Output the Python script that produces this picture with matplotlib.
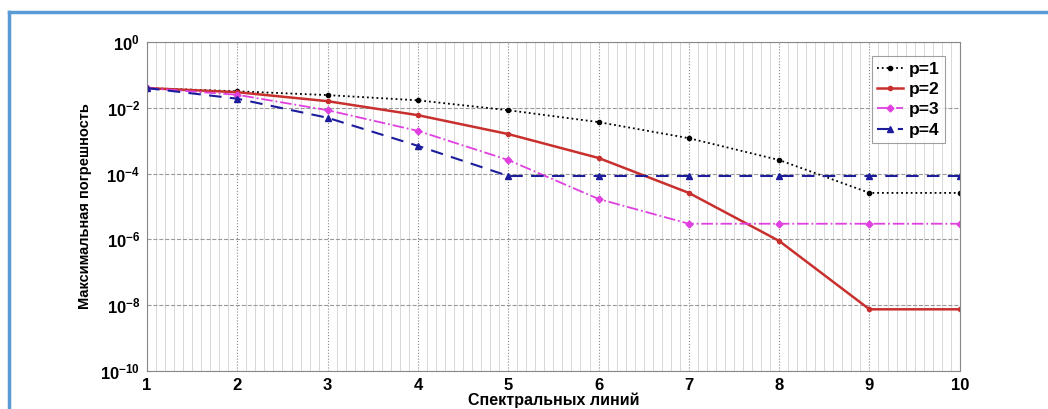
import numpy as np
import matplotlib
matplotlib.use("Agg")
import matplotlib.pyplot as plt
from matplotlib.ticker import MultipleLocator, FixedLocator, NullLocator
from matplotlib.lines import Line2D

# data
lines_n = [1, 2, 3, 4, 5, 6, 7, 8, 9, 10]
err_p1 = [0.04, 0.032, 0.0245, 0.017, 0.0085, 0.0037, 0.0012, 2.6e-4, 2.6e-5, 2.6e-5]
err_p2 = [0.04, 0.03, 0.016, 0.006, 1.6e-3, 3e-4, 2.6e-5, 9e-7, 7.5e-9, 7.5e-9]
err_p3 = [0.04, 0.025, 0.0085, 0.002, 2.6e-4, 1.7e-5, 3e-6, 3e-6, 3e-6, 3e-6]
err_p4 = [0.04, 0.019, 0.005, 7e-4, 8.5e-5, 8.5e-5, 8.5e-5, 8.5e-5, 8.5e-5, 8.5e-5]
labels = ['p=1', 'p=2', 'p=3', 'p=4']

plt.rcParams['font.family'] = ['Liberation Sans', 'DejaVu Sans']

fig = plt.figure(figsize=(10.48, 4.09), dpi=100)
ax = fig.add_axes([0.1403, 0.093, 0.7755, 0.804])

ax.plot(lines_n, err_p1, linestyle=':', color='black', marker='.', markersize=6,
        linewidth=1.3, label=labels[0])
ax.plot(lines_n, err_p2, linestyle='-', color='#c8302e', marker='.', markersize=6,
        linewidth=1.8, label=labels[1])
ax.plot(lines_n, err_p3, linestyle='-.', color='#e040e0', marker='D', markersize=3.5,
        linewidth=1.3, label=labels[2])
ax.plot(lines_n, err_p4, linestyle='--', color='#1c1c9c', marker='^', markersize=5,
        linewidth=1.5, dashes=(6, 4), label=labels[3])

ax.set_yscale('log')
ax.set_xlim(1, 10)
ax.set_ylim(1e-10, 1)
ax.set_xticks(lines_n)
ax.xaxis.set_minor_locator(MultipleLocator(0.1))
ax.yaxis.set_major_locator(FixedLocator([1e-10, 1e-8, 1e-6, 1e-4, 1e-2, 1e0]))
ax.yaxis.set_minor_locator(NullLocator())

ax.grid(True, which='minor', axis='x', color='#d8d8d8', linewidth=0.7, linestyle='-')
ax.grid(True, which='major', axis='x', color='#888888', linewidth=0.8, linestyle=':')
ax.grid(True, which='major', axis='y', color='#999999', linewidth=0.8, linestyle='--')
ax.set_axisbelow(True)

for s in ax.spines.values():
    s.set_color('#888888')
ax.tick_params(which='both', length=0, labelsize=12, pad=5)
for t in ax.get_xticklabels() + ax.get_yticklabels():
    t.set_fontweight('bold')

ax.set_ylabel('Максимальная погрешность', fontsize=10.5, fontweight='bold', labelpad=6)
ax.set_xlabel('Спектральных линий', fontsize=11.5, fontweight='bold', labelpad=0)

leg = ax.legend(loc='upper right', prop={'weight': 'bold', 'size': 12.5},
                fancybox=False, edgecolor='#888888', handlelength=1.5,
                handletextpad=0.3, borderpad=0.3, labelspacing=0.3,
                bbox_to_anchor=(0.992, 0.983))
leg.get_frame().set_linewidth(0.8)

# blue frame around the picture
fig.add_artist(Line2D([9 / 1048, 9 / 1048], [0, 1 - 12 / 409], color='#5b9bd5',
                      linewidth=2.5, transform=fig.transFigure))
fig.add_artist(Line2D([9 / 1048, 1], [1 - 12 / 409, 1 - 12 / 409], color='#5b9bd5',
                      linewidth=2.5, transform=fig.transFigure))

fig.savefig('out.png', dpi=100)
